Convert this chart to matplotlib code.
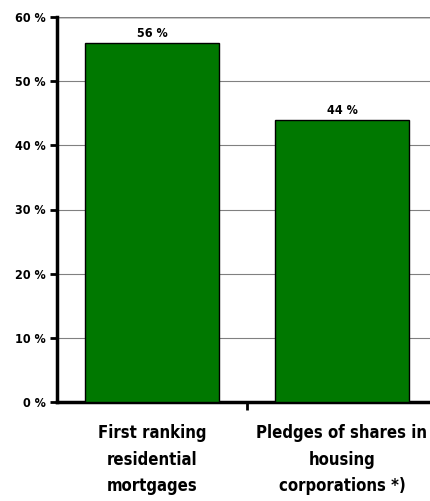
import matplotlib.pyplot as plt
from matplotlib.ticker import FixedLocator

categories = ['First ranking\nresidential\nmortgages', 'Pledges of shares in\nhousing\ncorporations *)']
shares = [56, 44]
y_ticks = [0, 10, 20, 30, 40, 50, 60]

plt.rcParams['font.family'] = ['DejaVu Sans']
plt.rcParams['font.stretch'] = 'condensed'
plt.rcParams['font.weight'] = 'bold'

fig = plt.figure(figsize=(4.3, 5.01), dpi=100)
ax = fig.add_axes([57 / 430, (501 - 402) / 501, 380 / 430, 385 / 501])

# bars + value labels
x = list(range(len(categories)))
ax.bar(x, shares, width=0.705, color='#007800', edgecolor='black', linewidth=1, zorder=3)
for xi, v in zip(x, shares):
    ax.text(xi, v + 0.4, f'{v} %', ha='center', va='bottom', fontsize=9, fontweight='bold')

ax.set_xlim(-0.5, 1.5)
ax.set_ylim(0, 60)
ax.set_yticks(y_ticks)
ax.set_yticklabels([f'{t} %' for t in y_ticks], fontsize=9, fontweight='bold')
ax.yaxis.grid(True, color='#808080', linewidth=0.8, zorder=0)
ax.axhline(60, color='black', linewidth=1, zorder=1)

# category labels sit on minor ticks, separator tick is the major one
ax.set_xticks([0.5])
ax.set_xticklabels([''])
ax.xaxis.set_minor_locator(FixedLocator(x))
ax.set_xticklabels(categories, minor=True, fontsize=12, fontweight='bold', linespacing=1.6)
ax.tick_params(axis='x', which='minor', length=0, pad=16)
ax.tick_params(axis='x', which='major', length=6, width=2, direction='out')
ax.tick_params(axis='y', length=5, width=2, direction='out', pad=3)

for s in ['top', 'right']:
    ax.spines[s].set_visible(False)
ax.spines['left'].set_linewidth(2.5)
ax.spines['bottom'].set_linewidth(2.5)

fig.savefig('out.png', dpi=100)
